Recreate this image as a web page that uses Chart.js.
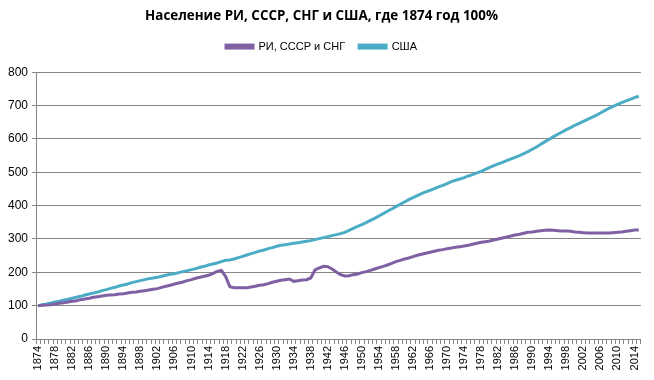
<!DOCTYPE html>
<html>
<head>
<meta charset="utf-8">
<script src="https://cdn.jsdelivr.net/npm/chart.js@4"></script>
<style>
html,body{margin:0;padding:0;background:#fff;}
#wrap{width:654px;height:380px;}
</style>
</head>
<body>
<div id="wrap"><canvas id="c" width="654" height="380"></canvas></div>
<script>
const years = [];
for (let y = 1874; y <= 2015; y++) years.push(String(y));

const seriesNames = ["РИ, СССР и СНГ", "США"];

const riUssrCis = [
100,101,102,103,105,107,109,111,113,115,
118,120,122,125,127,129,131,132,133,135,
136,138,140,141,143,145,147,149,151,155,
158,161,165,168,171,175,178,182,185,188,
191,196,203,206,188,157,154,154,154,154,
156,158,161,163,166,170,173,176,178,180,
173,175,177,178,183,207,213,218,217,210,
201,193,189,190,193,195,199,202,206,210,
214,218,222,227,232,236,240,243,247,251,
254,257,260,263,266,268,271,273,275,277,
279,281,284,287,290,292,294,297,300,303,
306,309,312,314,317,320,321,323,325,326,
327,326,325,324,324,323,321,320,319,318,
318,318,318,318,318,319,320,321,323,325,
327,327
];

const usa = [
100,103,105,108,111,113,116,119,122,125,
128,132,135,138,141,145,148,152,155,159,
162,165,169,172,175,178,181,183,185,188,
191,194,196,199,202,205,208,211,215,218,
222,225,228,232,236,237,240,244,248,252,
256,260,264,267,271,274,278,281,283,285,
287,289,291,293,295,298,301,304,307,310,
313,316,320,326,332,338,343,349,356,362,
369,376,383,390,397,404,411,418,424,430,
436,441,446,451,456,461,466,472,476,480,
484,489,493,498,503,509,515,520,525,530,
535,540,545,550,556,562,569,576,584,592,
599,607,614,621,628,634,641,647,653,659,
665,671,678,685,692,698,704,709,714,719,
724,728
];

const yTicks = [0,100,200,300,400,500,600,700,800];
const titleText = "Население РИ, СССР, СНГ и США, где 1874 год 100%";

const gridColor = "#868686";
const fontFam = "'Liberation Sans', Arial, sans-serif";

new Chart(document.getElementById('c'), {
  type: 'line',
  data: {
    labels: years,
    datasets: [
      { label: seriesNames[0], data: riUssrCis, borderColor: '#7e60a3', backgroundColor: '#7e60a3', borderWidth: 3, pointRadius: 0, tension: 0 },
      { label: seriesNames[1], data: usa, borderColor: '#4bacc6', backgroundColor: '#4bacc6', borderWidth: 3, pointRadius: 0, tension: 0 }
    ]
  },
  options: {
    responsive: false,
    animation: false,
    devicePixelRatio: 1,
    layout: { padding: { left: 0, right: 11, top: 0, bottom: 0 } },
    plugins: {
      title: {
        display: true,
        text: titleText,
        color: '#000',
        font: { family: "'Open Sans', sans-serif", size: 13.4, weight: 'bold' },
        padding: { top: 8, bottom: 3 }
      },
      subtitle: {
        display: true,
        text: ' ',
        weight: 500,
        font: { size: 1 },
        padding: { top: 0, bottom: 9 }
      },
      legend: {
        display: true,
        labels: {
          color: '#000',
          font: { family: fontFam, size: 11 },
          boxWidth: 27,
          boxHeight: 3,
          padding: 14
        }
      },
      tooltip: { enabled: false }
    },
    scales: {
      x: {
        type: 'category',
        offset: true,
        grid: { display: true, drawOnChartArea: false, drawTicks: true, tickLength: 5, color: gridColor, offset: true },
        border: { display: true, color: gridColor },
        ticks: {
          autoSkip: false,
          maxRotation: 90,
          minRotation: 90,
          color: '#000',
          padding: 2,
          font: { family: fontFam, size: 11 },
          callback: function(v, i) { const y = parseInt(years[i]); return ((y - 1874) % 4 === 0) ? years[i] : ''; }
        },
        afterFit: function(s) { s.height = 41; }
      },
      y: {
        min: 0,
        max: 800,
        afterBuildTicks: function(s) { s.ticks = yTicks.map(v => ({ value: v })); },
        grid: { color: gridColor, tickLength: 4 },
        border: { display: true, color: gridColor },
        ticks: { color: '#000', padding: 4, font: { family: fontFam, size: 12 } },
        afterFit: function(s) { s.width = 36; }
      }
    }
  }
});
</script>
</body>
</html>
